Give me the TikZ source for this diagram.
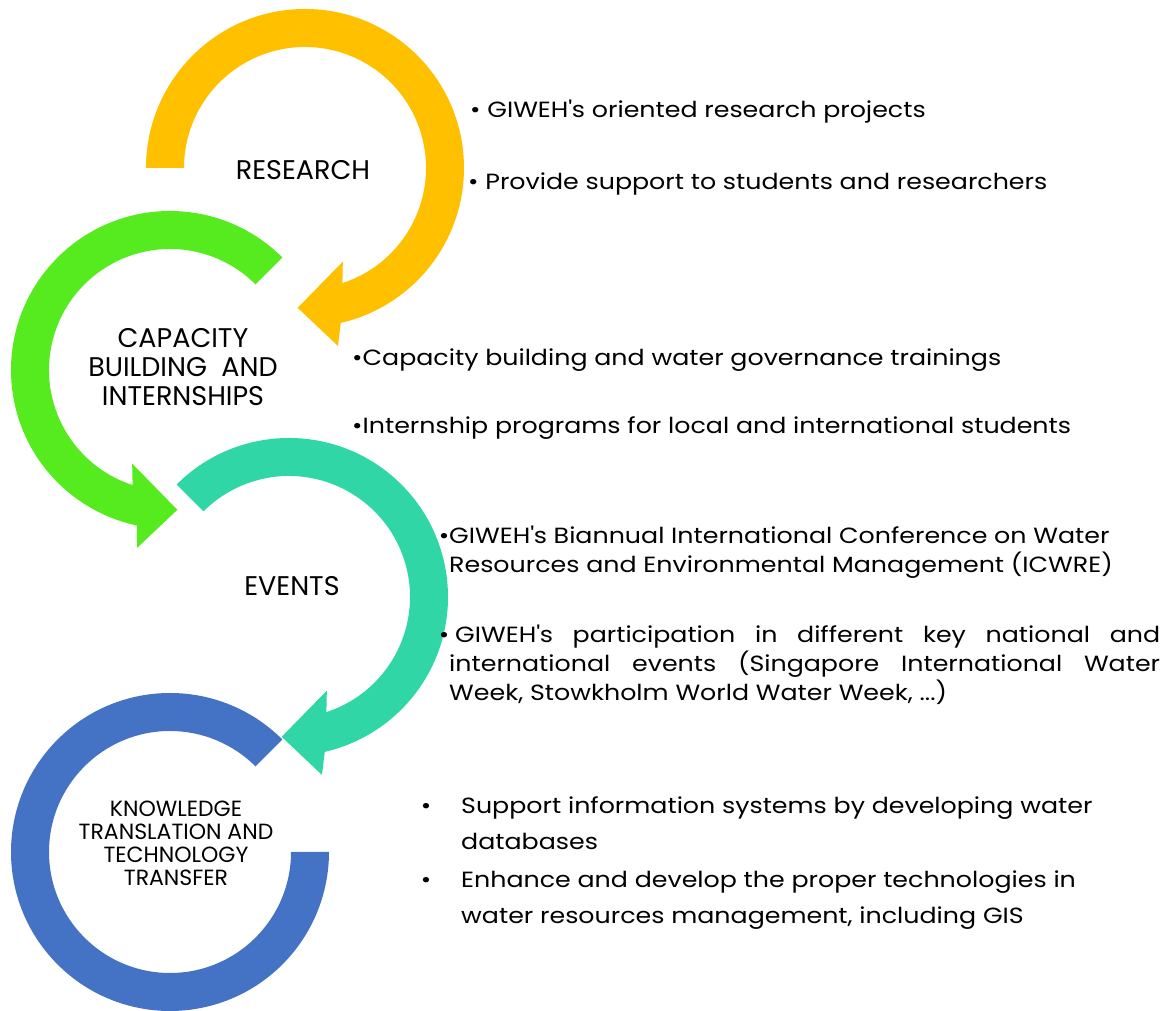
\documentclass[tikz,border=0pt]{standalone}
\usepackage{fontspec}
\setmainfont{Poppins}
\newfontfamily\bodyfont[FakeStretch=1.15]{Poppins}
\usetikzlibrary{positioning}
\definecolor{resY}{HTML}{FFC000}
\definecolor{capG}{HTML}{56EB1E}
\definecolor{evtT}{HTML}{30D6A5}
\definecolor{knwB}{HTML}{4472C4}
\begin{document}
\begin{tikzpicture}[x=1pt, y=1pt,
    ring/.style={font=\fontsize{27}{29}\selectfont, align=center, inner sep=0},
    small ring/.style={font=\fontsize{22}{23}\selectfont, align=center, inner sep=0},
    item/.style={font=\bodyfont\fontsize{22}{29}\selectfont, anchor=west, inner sep=0},
    para/.style={font=\bodyfont\fontsize{22}{29}\selectfont, anchor=north west, inner sep=0, align=left},
    wide/.style={font=\bodyfont\fontsize{22}{36}\selectfont, anchor=north west, inner sep=0, align=left}]
  \useasboundingbox (0,0) rectangle (1167,1011);
  \coordinate (res) at (305,843);
  \coordinate (cap) at (170,641);
  \coordinate (evt) at (289,414);
  \coordinate (knw) at (170,159);

  \begin{scope}[shift={(res)}]
    \fill[resY] (180:159) arc[start angle=180, end angle=-77, radius=159]
      -- (-79.5:181) -- (-93:140) -- (-68:101) -- (-72:121)
      arc[start angle=-72, end angle=180, radius=121] -- cycle;
  \end{scope}
  \begin{scope}[shift={(cap)}]
    \fill[capG] (45:159) arc[start angle=45, end angle=258, radius=159]
      -- (259.5:181) -- (273:140) -- (248:101) -- (252:121)
      arc[start angle=252, end angle=45, radius=121] -- cycle;
  \end{scope}
  \begin{scope}[shift={(evt)}]
    \fill[evtT] (135:159) arc[start angle=135, end angle=-77, radius=159]
      -- (-79.5:181) -- (-93:140) -- (-68:101) -- (-72:121)
      arc[start angle=-72, end angle=135, radius=121] -- cycle;
  \end{scope}
  \begin{scope}[shift={(knw)}]
    \fill[knwB] (45:159) arc[start angle=45, end angle=360, radius=159]
      -- (0:121) arc[start angle=360, end angle=45, radius=121] -- cycle;
  \end{scope}

  \node[ring] (research) at (303,841) {RESEARCH};
  \node[ring] (capacity) at (183,644) {CAPACITY\\BUILDING\ \ AND\\INTERNSHIPS};
  \node[ring] (events) at (292,425) {EVENTS};
  \node[small ring] (knowledge) at (176,168) {KNOWLEDGE\\TRANSLATION AND\\TECHNOLOGY\\TRANSFER};

  \node[item] (r1) at (470,899) {\textbullet\ GIWEH\textquotesingle s oriented research projects};
  \node[item] (r2) at (468,827) {\textbullet\ Provide support to students and researchers};
  \node[item] (c1) at (352,651) {\textbullet Capacity building and water governance trainings};
  \node[item] (c2) at (352,583) {\textbullet Internship programs for local and international students};
  \node[para] (e1) at (449,485) {\llap{\textbullet}GIWEH\textquotesingle s Biannual International Conference on Water\\Resources and Environmental Management (ICWRE)};
  \node[para, text width=711pt, align=justify] (e2) at (449,386)
    {\llap{\textbullet}\hspace*{6pt}GIWEH\textquotesingle s participation in different key national and\linebreak
     international events (Singapore International Water\linebreak
     Week, Stowkholm World Water Week, ...)};
  \node[wide] (k1) at (461,215) {\llap{\textbullet\hspace{30pt}}Support information systems by developing water\\databases};
  \node[wide] (k2) at (461,140) {\llap{\textbullet\hspace{30pt}}Enhance and develop the proper technologies in\\water resources management, including GIS};
\end{tikzpicture}
\end{document}
